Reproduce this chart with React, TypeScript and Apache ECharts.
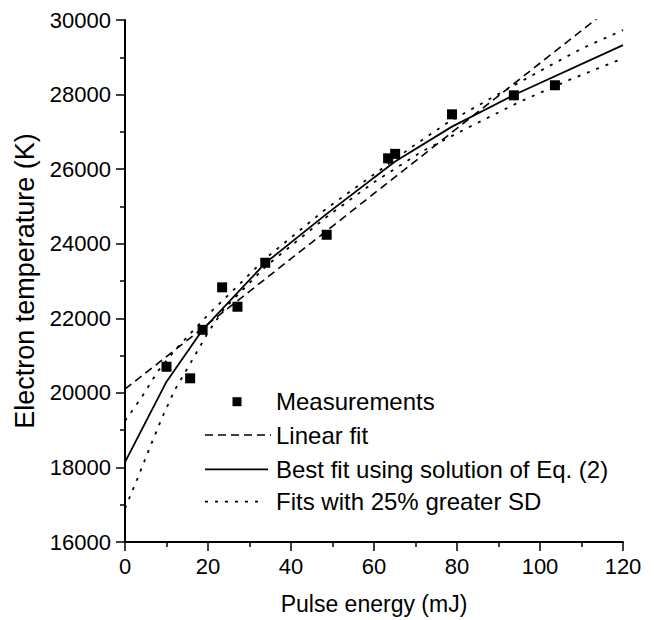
import React, { useEffect, useRef } from "react";
import * as echarts from "echarts";

// Measurements
const xMeas = [10.0, 15.7, 18.7, 23.4, 27.1, 33.8, 48.6, 63.4, 65.1, 78.8, 93.7, 103.6];
const yMeas = [20700, 20390, 21690, 22830, 22310, 23490, 24240, 26290, 26410, 27470, 27980, 28250];

// Linear fit
const xLin = [0, 120];
const yLin = [20100, 30590];

// Best fit using solution of Eq. (2)
const xBest = [0, 10, 18.7, 33.8, 48.6, 65, 78.8, 93.7, 120];
const yBest = [18140, 20300, 21690, 23480, 24800, 26200, 27140, 27990, 29325];

// Fits with 25% greater SD (upper and lower)
const xUp = [0, 4, 8, 12, 16, 20.5, 27, 33.8, 48.6, 60, 68.7, 77.5, 89.6, 101.6, 110, 120];
const yUp = [19250, 19880, 20590, 21140, 21620, 22150, 22850, 23600, 24950, 25860, 26560, 27230, 27990, 28730, 29230, 29730];
const xLow = [0, 3, 6, 9, 12, 16, 20, 24, 34, 48.6, 60, 71.5, 83.5, 95, 107, 120];
const yLow = [16900, 17700, 18540, 19350, 20080, 20840, 21620, 22270, 23400, 24720, 25650, 26470, 27160, 27800, 28390, 28970];

const legendLabels = [
  "Measurements",
  "Linear fit",
  "Best fit using solution of Eq. (2)",
  "Fits with 25% greater SD",
];

const FONT = "'Liberation Sans', Arial, Helvetica, sans-serif";

const zip = (xs: number[], ys: number[]) => xs.map((x, i) => [x, ys[i]]);

export default function App() {
  const ref = useRef<HTMLDivElement>(null);
  useEffect(() => {
    if (!ref.current) return;
    const chart = echarts.init(ref.current, undefined, { renderer: "svg" });
    const rowY = [401.7, 435, 469.3, 501.7];
    const lx0 = 205;
    const textX = 276;
    chart.setOption({
      animation: false,
      backgroundColor: "#ffffff",
      textStyle: { fontFamily: FONT },
      grid: { left: 125, right: 31, top: 20, bottom: 77, containLabel: false },
      xAxis: {
        type: "value",
        min: 0,
        max: 120,
        interval: 20,
        name: "Pulse energy (mJ)",
        nameLocation: "middle",
        nameGap: 50,
        nameTextStyle: { fontSize: 23, color: "#000", fontFamily: FONT },
        axisLine: { show: true, onZero: false, lineStyle: { color: "#000", width: 2 } },
        axisTick: { show: true, length: 9, lineStyle: { color: "#000", width: 1.5 } },
        minorTick: { show: true, splitNumber: 2, length: 5, lineStyle: { color: "#000", width: 1.5 } },
        axisLabel: { fontSize: 22, color: "#000", margin: 13, fontFamily: FONT },
        splitLine: { show: false },
      },
      yAxis: {
        type: "value",
        min: 16000,
        max: 30000,
        interval: 2000,
        name: "Electron temperature (K)",
        nameLocation: "middle",
        nameGap: 87,
        nameTextStyle: { fontSize: 27, color: "#000", fontFamily: FONT },
        axisLine: { show: true, onZero: false, lineStyle: { color: "#000", width: 2 } },
        axisTick: { show: true, length: 9, lineStyle: { color: "#000", width: 1.5 } },
        minorTick: { show: true, splitNumber: 2, length: 5, lineStyle: { color: "#000", width: 1.5 } },
        axisLabel: {
          fontSize: 22,
          color: "#000",
          margin: 14,
          fontFamily: FONT,
          formatter: (v: number) => String(v),
        },
        splitLine: { show: false },
      },
      series: [
        {
          name: legendLabels[1],
          type: "line",
          data: zip(xLin, yLin),
          symbol: "none",
          clip: true,
          lineStyle: { color: "#000", width: 1.6, type: [8, 5] },
          z: 2,
        },
        {
          name: legendLabels[2],
          type: "line",
          data: zip(xBest, yBest),
          symbol: "none",
          clip: true,
          lineStyle: { color: "#000", width: 1.8, type: "solid" },
          z: 3,
        },
        {
          name: legendLabels[3],
          type: "line",
          data: zip(xUp, yUp),
          symbol: "none",
          clip: true,
          lineStyle: { color: "#000", width: 1.8, type: [3, 7] },
          z: 2,
        },
        {
          name: legendLabels[3],
          type: "line",
          data: zip(xLow, yLow),
          symbol: "none",
          clip: true,
          lineStyle: { color: "#000", width: 1.8, type: [3, 7] },
          z: 2,
        },
        {
          name: legendLabels[0],
          type: "scatter",
          data: zip(xMeas, yMeas),
          symbol: "rect",
          symbolSize: 10,
          itemStyle: { color: "#000", opacity: 1 },
          z: 5,
        },
      ],
      graphic: [
        {
          type: "rect",
          shape: { x: 232.5, y: rowY[0] - 4.5, width: 9, height: 9 },
          style: { fill: "#000" },
        },
        {
          type: "line",
          shape: { x1: lx0, y1: rowY[1], x2: 271, y2: rowY[1] },
          style: { stroke: "#000", lineWidth: 1.6, lineDash: [8, 5] },
        },
        {
          type: "line",
          shape: { x1: lx0, y1: rowY[2], x2: 268, y2: rowY[2] },
          style: { stroke: "#000", lineWidth: 1.8 },
        },
        {
          type: "line",
          shape: { x1: lx0, y1: rowY[3], x2: 262, y2: rowY[3] },
          style: { stroke: "#000", lineWidth: 1.8, lineDash: [3, 7] },
        },
        ...legendLabels.map((t, i) => ({
          type: "text",
          x: textX,
          y: rowY[i],
          style: {
            text: t,
            fill: "#000",
            fontSize: 24,
            fontFamily: FONT,
            verticalAlign: "middle",
            align: "left",
          },
        })),
      ],
    });
    return () => chart.dispose();
  }, []);
  return (
    <div
      ref={ref}
      style={{ position: "fixed", left: 0, top: 0, width: 654, height: 620, background: "#fff" }}
    />
  );
}
